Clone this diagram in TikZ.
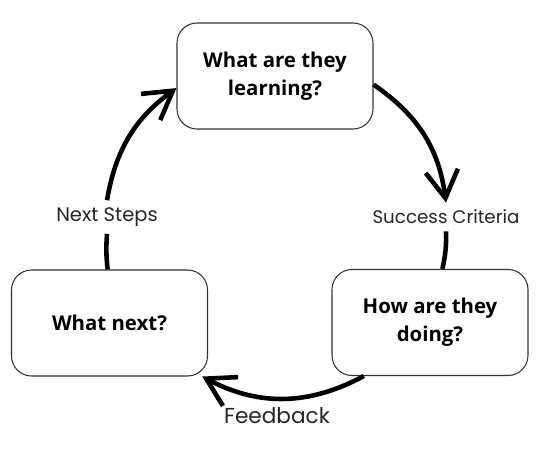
\documentclass[tikz,border=0pt]{standalone}
\usepackage{fontspec}
\usepackage{tikz}
\usetikzlibrary{arrows.meta}
\newfontfamily\boxfont{Open Sans}
\newfontfamily\lblfont{Poppins}
\tikzset{
	quest/.style = {rectangle, rounded corners = 0.4cm, minimum width = 3.92cm, minimum height = 2.12cm, text centered, align = center, draw = black!80, line width = 0.6pt, font = \boxfont\bfseries\fontsize{11.6}{16}\selectfont},
	lbl/.style = {rectangle, inner sep = 4pt, fill = white, text = black!85, font = \lblfont\fontsize{10.4}{12}\selectfont},
	arrow/.style = {-{Straight Barb[length = 5.5mm, width = 6.5mm]}, draw = black, line width = 2.6pt},
	link/.style = {draw = black, line width = 2.6pt}
}

\begin{document}
\begin{tikzpicture}
	
	\useasboundingbox (0,0) rectangle (11,9);
	
	%% nodes
	\node (learn) [quest] at (5.5cm,7.48cm) {What are they\\learning?};
	\node (doing) [quest, right of = learn, xshift = 2.1cm, yshift = -4.93cm] {How are they\\doing?};
	\node (whatnext) [quest, left of = learn, xshift = -2.31cm, yshift = -4.94cm] {What next?};
	
	%% labels
	\node (crit) [lbl] at (8.92cm,4.66cm) {Success Criteria};
	\node (steps) [lbl, font = \lblfont\fontsize{11.1}{13}\selectfont] at (2.14cm,4.66cm) {Next Steps};
	\node (fb) [lbl, inner sep = 0pt, font = \lblfont\fontsize{12.3}{14}\selectfont] at (5.54cm,0.68cm) {Feedback};
	
	%% arrows
	\draw [arrow] (learn.-5) to[bend left = 24] (crit.north);
	\draw [link] (crit.south) to[bend left = 7] (doing.77);
	\draw [arrow] (doing.219) to[bend left = 28] (whatnext.-30);
	\draw [link] (whatnext.92) to[bend left = 5] (steps.south);
	\draw [arrow] (steps.north) to[bend left = 22] (learn.187);
	
\end{tikzpicture}
\end{document}
